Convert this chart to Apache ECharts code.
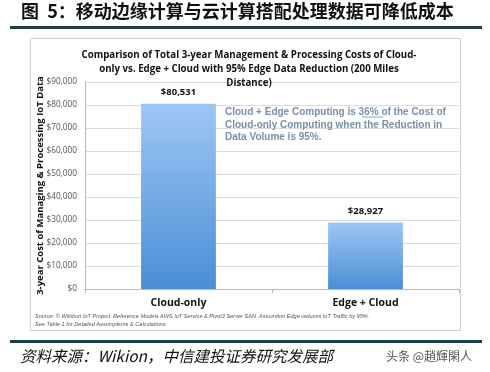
<!DOCTYPE html>
<html><head><meta charset="utf-8">
<script src="https://cdn.jsdelivr.net/npm/echarts@6/dist/echarts.min.js"></script>
<style>html,body{margin:0;padding:0;background:#fff}#c{width:490px;height:372px}</style>
</head><body><div id="c"></div>
<script>
const categories = ['Cloud-only', 'Edge + Cloud'];
const costs = [80531, 28927];
const valueLabels = ['$80,531', '$28,927'];
const yTicks = [0, 10000, 20000, 30000, 40000, 50000, 60000, 70000, 80000, 90000];

const chart = echarts.init(document.getElementById('c'));
const sans = '"Open Sans", "Noto Sans", Arial, sans-serif';
const cjk = '"Noto Sans CJK SC", sans-serif';

chart.setOption({
  backgroundColor: '#fff',
  animation: false,
  title: {
    text: 'Comparison of Total 3-year Management & Processing Costs of Cloud-\nonly vs. Edge + Cloud with 95% Edge Data Reduction (200 Miles\nDistance)',
    left: 244, top: 43, textAlign: 'center',
    textStyle: { fontFamily: sans, fontSize: 9.7, fontWeight: 'bold', color: '#111', lineHeight: 14 }
  },
  grid: { left: 85, right: 31, top: 82, bottom: 83 },
  xAxis: {
    type: 'category', data: categories,
    axisLine: { lineStyle: { color: '#bbb' } },
    axisTick: { show: true, lineStyle: { color: '#bbb' }, length: 4 },
    axisLabel: { fontFamily: sans, fontSize: 10.5, fontWeight: 'bold', color: '#111', margin: 9 }
  },
  yAxis: {
    type: 'value', min: 0, max: 90000, interval: 10000,
    name: '3-year Cost of Managing & Processing IoT Data',
    nameLocation: 'middle', nameGap: 40, nameRotate: 90, nameMoveOverlap: false,
    nameTextStyle: { fontFamily: sans, fontSize: 9.5, fontWeight: 'bold', color: '#111' },
    axisLine: { show: true, lineStyle: { color: '#bbb' } },
    axisTick: { show: false },
    splitLine: { lineStyle: { color: '#dcdcdc' } },
    axisLabel: {
      fontFamily: sans, fontSize: 8.3, color: '#555', margin: 8,
      formatter: v => '$' + v.toLocaleString('en-US')
    }
  },
  series: [{
    type: 'bar', data: costs, barWidth: '40%',
    itemStyle: {
      color: new echarts.graphic.LinearGradient(0, 0, 0, 1, [
        { offset: 0, color: '#9fc6f4' }, { offset: 1, color: '#4a8ed6' }
      ])
    },
    label: {
      show: true, position: 'top', distance: 6,
      formatter: p => valueLabels[p.dataIndex],
      fontFamily: sans, fontSize: 9.5, fontWeight: 'bold', color: '#111'
    }
  }],
  graphic: [
    { type: 'text', left: 21, top: 2, style: { text: '图  5：移动边缘计算与云计算搭配处理数据可降低成本', font: 'bold 18px ' + cjk, fill: '#111' } },
    { type: 'rect', shape: { x: 10, y: 26, width: 472, height: 3 }, style: { fill: '#1e3e4c' } },
    { type: 'rect', shape: { x: 30.5, y: 38.5, width: 430, height: 292 }, style: { fill: 'none', stroke: '#cfcfcf', lineWidth: 1 }, z: -1 },
    { type: 'text', x: 225, y: 106, style: { text: 'Cloud + Edge Computing is 36% of the Cost of\nCloud-only Computing when the Reduction in\nData Volume is 95%.', font: 'bold 10px "Liberation Sans", Arial, sans-serif', fill: '#7a90aa', lineHeight: 12.5 }, z: 10 },
    { type: 'line', shape: { x1: 362, y1: 117, x2: 383, y2: 117 }, style: { stroke: '#7a90aa', lineWidth: 0.8 }, z: 10 },
    { type: 'text', x: 35, y: 312, style: { text: 'Source: © Wikibon IoT Project. Reference Models AWS IoT Service & Pivot3 Server SAN. Assumtion Edge reduces IoT Traffic by 95%.\nSee Table 1 for Detailed Assumptions & Calculations', font: 'italic 5.6px "Liberation Sans", Arial, sans-serif', fill: '#555', lineHeight: 8 } },
    { type: 'rect', shape: { x: 10, y: 340, width: 472, height: 3 }, style: { fill: '#1e3e4c' } },
    { type: 'text', x: 20, y: 348, style: { text: '资料来源：Wikion，中信建投证券研究发展部', font: 'italic 15.5px ' + cjk, fill: '#111' } },
    { type: 'text', x: 386, y: 350, style: { text: '头条 @趙輝閑人', font: '12px ' + cjk, fill: '#555' } }
  ]
});
</script></body></html>
